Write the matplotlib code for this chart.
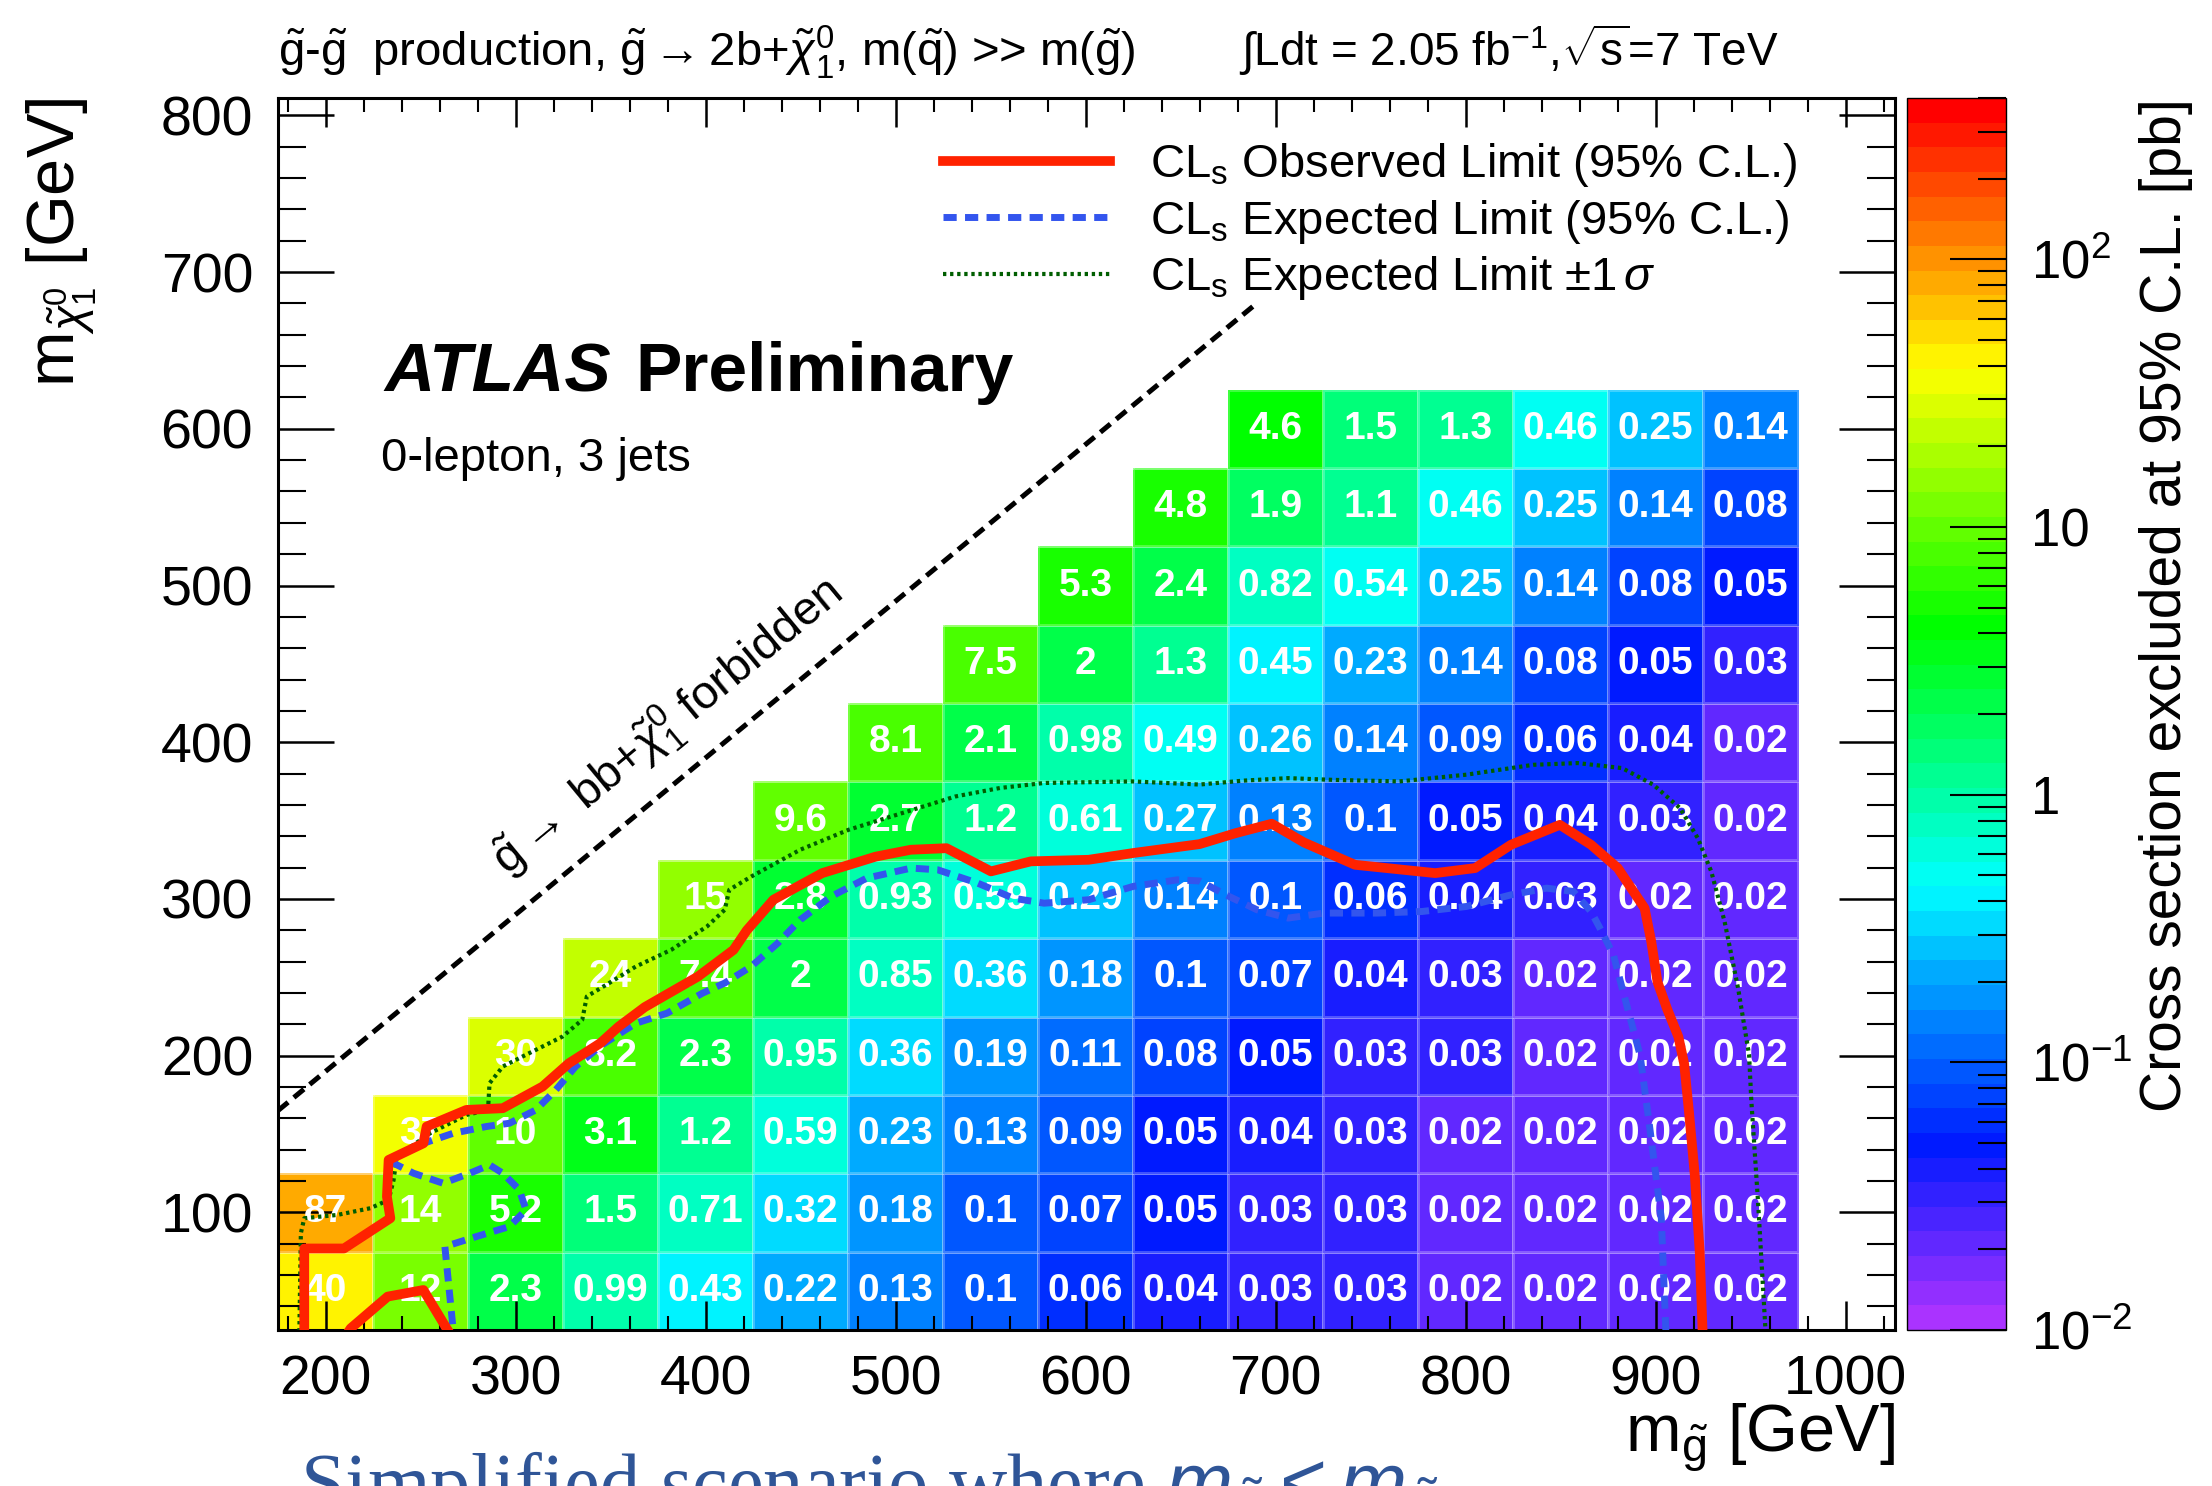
import colorsys

import numpy as np
import matplotlib
matplotlib.use("Agg")
import matplotlib.pyplot as plt
from matplotlib.colors import ListedColormap, LogNorm
from matplotlib.ticker import MultipleLocator, LogLocator, NullFormatter

plt.rcParams["font.family"] = ["Liberation Sans", "DejaVu Sans"]
plt.rcParams["mathtext.fontset"] = "custom"
plt.rcParams["mathtext.rm"] = "Liberation Sans"
plt.rcParams["mathtext.it"] = "Liberation Sans:italic"
plt.rcParams["mathtext.bf"] = "Liberation Sans:bold"

# grid of signal points (GeV)
M_GLUINO = np.array([200, 250, 300, 350, 400, 450, 500, 550, 600, 650, 700, 750, 800, 850, 900, 950])
M_LSP = np.array([50, 100, 150, 200, 250, 300, 350, 400, 450, 500, 550, 600])

# excluded cross section [pb], one row per neutralino mass, None = no point
_ = None
XSEC_050 = [40, 12, 2.3, 0.99, 0.43, 0.22, 0.13, 0.1, 0.06, 0.04, 0.03, 0.03, 0.02, 0.02, 0.02, 0.02]
XSEC_100 = [87, 14, 5.2, 1.5, 0.71, 0.32, 0.18, 0.1, 0.07, 0.05, 0.03, 0.03, 0.02, 0.02, 0.02, 0.02]
XSEC_150 = [_, 37, 10, 3.1, 1.2, 0.59, 0.23, 0.13, 0.09, 0.05, 0.04, 0.03, 0.02, 0.02, 0.02, 0.02]
XSEC_200 = [_, _, 30, 8.2, 2.3, 0.95, 0.36, 0.19, 0.11, 0.08, 0.05, 0.03, 0.03, 0.02, 0.02, 0.02]
XSEC_250 = [_, _, _, 24, 7.4, 2, 0.85, 0.36, 0.18, 0.1, 0.07, 0.04, 0.03, 0.02, 0.02, 0.02]
XSEC_300 = [_, _, _, _, 15, 2.8, 0.93, 0.59, 0.29, 0.14, 0.1, 0.06, 0.04, 0.03, 0.02, 0.02]
XSEC_350 = [_, _, _, _, _, 9.6, 2.7, 1.2, 0.61, 0.27, 0.13, 0.1, 0.05, 0.04, 0.03, 0.02]
XSEC_400 = [_, _, _, _, _, _, 8.1, 2.1, 0.98, 0.49, 0.26, 0.14, 0.09, 0.06, 0.04, 0.02]
XSEC_450 = [_, _, _, _, _, _, _, 7.5, 2, 1.3, 0.45, 0.23, 0.14, 0.08, 0.05, 0.03]
XSEC_500 = [_, _, _, _, _, _, _, _, 5.3, 2.4, 0.82, 0.54, 0.25, 0.14, 0.08, 0.05]
XSEC_550 = [_, _, _, _, _, _, _, _, _, 4.8, 1.9, 1.1, 0.46, 0.25, 0.14, 0.08]
XSEC_600 = [_, _, _, _, _, _, _, _, _, _, 4.6, 1.5, 1.3, 0.46, 0.25, 0.14]

# observed limit (main contour + small island at low mass)
OBS_X = [188.8, 188.8, 209.7, 234.1, 232.3, 233.2, 251.5, 253.2, 274.1, 293.3, 314.2, 328.1, 344.6,
         354.3, 368, 396, 414.7, 421.7, 435.7, 461.4, 489.5, 508, 526.8, 550.2, 571.2, 601.6, 625,
         660, 679, 698, 715, 741.8, 784, 805, 823.9, 849.6, 866, 880.1, 894.2, 897.7, 901, 906, 912,
         915, 917.5, 920.6, 923.2, 925]
OBS_Y = [15, 77, 77, 96.3, 110.1, 133.5, 144.1, 154.8, 165.4, 166.5, 180.3, 195.2, 208,
         218.6, 231, 250.5, 267.5, 280, 299.5, 316.5, 327, 331.4, 332.4, 317.6, 324, 325, 329.3,
         335, 342, 348, 336, 321.8, 316.5, 319.7, 334.6, 347.3, 334.6, 319.7, 294.1, 272.9, 247, 230, 212,
         195, 165, 124, 75, 15]
OBS2_X = [210, 213.2, 232.7, 251.5, 263.7, 268]
OBS2_Y = [20, 26, 46.3, 50.5, 26, 18]

# expected limit
EXP_X = [268, 262.8, 279.4, 296.8, 305.5, 302, 293.3, 286.3, 275.9, 261.9, 246.3, 235.8, 237.5, 251.5,
         267.2, 284.6, 296.8, 310.7, 321.2, 331.6, 345.6, 363.3, 379.7, 398.4, 410, 424, 438, 449.8,
         466.1, 484.8, 508.2, 522.2, 543.2, 561.9, 578.2, 601.6, 625, 648.3, 660, 673.8, 690.2, 706.6,
         725.4, 753.5, 777, 800.4, 823.8, 842.6, 856.7, 866, 870.7, 877.8, 882.4, 887.1, 891.8, 896.5,
         903, 905.7]
EXP_Y = [15, 78.2, 84.6, 91, 101.6, 114.4, 125, 130.3, 125, 118.6, 125, 131.4, 135.6, 144.1,
         150.5, 154.8, 156.9, 165.4, 178.2, 193.1, 207, 220.7, 227.1, 239.9, 246.3, 256.9, 271.8, 286.7,
         301.6, 313.3, 319.7, 318.6, 310.1, 300.5, 297.3, 299.5, 308, 312.2, 311.5, 302.6, 293.1, 287.8,
         291, 291, 292, 295.2, 302.6, 306.9, 304.8, 292, 281.4, 264.3, 243.1, 221.8, 200.5, 158,
         96.3, 15]

# expected limit +-1 sigma
SIG_X = [186.1, 187, 188.8, 206.2, 223.6, 233.2, 235.8, 237.5, 255, 274.1, 285.5, 286.3, 293.3, 303.7,
         324.7, 335.1, 337.5, 349.2, 363.3, 382, 400.8, 410.1, 412.5, 424.2, 449.8, 475.4, 503.5, 531.5,
         554.9, 578.2, 625, 660, 683, 706.6, 730, 765.2, 800.4, 835.6, 859, 882.4, 898.8, 912.8, 922.2,
         929.3, 936.3, 943.4, 949.2, 950.4, 953.9, 958.3]
SIG_Y = [15, 86.7, 96.3, 98.4, 102.7, 108, 120.7, 135.6, 150.5, 162.2, 165.4, 182.4, 193.1, 199.5,
         212.2, 222.9, 237.8, 246.3, 256.9, 267.6, 282.5, 293.1, 305.9, 314.4, 331.4, 344.2, 354.8, 365.4,
         370.8, 374, 375, 373, 375.5, 377.1, 376, 375, 379.3, 385.6, 386.7, 383.5, 372.9, 358, 338.8,
         317.5, 285.6, 243.1, 200.5, 170.7, 106.9, 15]

# kinematic boundary m(chi) = m(gluino) - 2 m(b)
KIN_X = [175, 690]
KIN_Y = [165, 680]

CBAR_TICKS = [0.01, 0.1, 1, 10, 100]
CBAR_LABELS = ["$10^{-2}$", "$10^{-1}$", "1", "10", "$10^{2}$"]

RED = "#ff2200"
BLUE = "#3355ee"
GREEN = "#005e00"


def root_palette(n=50):
    # ROOT "pretty" palette: saturated hues from violet down to red,
    # the blue/violet end comes out a little washed in the original
    cols = []
    for h in np.linspace(280, 0, n):
        r, g, b = colorsys.hls_to_rgb(h / 360.0, 0.5, 1.0)
        if h > 200:
            g = min(1.0, g + 0.2 * (h - 200) / 80.0)
        cols.append((r, g, b))
    return ListedColormap(cols)


palette = root_palette()
norm = LogNorm(vmin=0.01, vmax=400)

rows = [XSEC_050, XSEC_100, XSEC_150, XSEC_200, XSEC_250, XSEC_300,
        XSEC_350, XSEC_400, XSEC_450, XSEC_500, XSEC_550, XSEC_600]
Z = np.ma.masked_invalid(np.array([[np.nan if v is None else v for v in r] for r in rows], dtype=float))
xe = np.append(M_GLUINO - 25, M_GLUINO[-1] + 25)
ye = np.append(M_LSP - 25, M_LSP[-1] + 25)

fig = plt.figure(figsize=(22.12, 14.86), dpi=100)
ax = fig.add_axes([0.1257, 0.105, 0.7310, 0.829])
cax = fig.add_axes([0.8621, 0.105, 0.0448, 0.829])

mesh = ax.pcolormesh(xe, ye, Z, cmap=palette, norm=norm, edgecolors=(1, 1, 1, 0.25), linewidth=0.8, zorder=1)
for j, m_lsp in enumerate(M_LSP):
    for i, m_gl in enumerate(M_GLUINO):
        v = rows[j][i]
        if v is None:
            continue
        ax.text(m_gl, m_lsp, f"{v:.2g}", ha="center", va="center", color="white",
                fontsize=28, fontweight="bold", zorder=2)

ax.plot(KIN_X, KIN_Y, color="black", lw=3.6, ls=(0, (2.6, 1.5)), zorder=3)
ax.text(380, 410, r"$\tilde{\mathrm{g}}\rightarrow$ bb+$\tilde{\chi}^{0}_{1}$ forbidden", fontsize=34,
        rotation=45, transform_rotates_text=True, rotation_mode="anchor", ha="center", va="center")

(h_sig,) = ax.plot(SIG_X, SIG_Y, color=GREEN, lw=3, ls=(0, (0.8, 0.9)), zorder=4,
                   label=r"CL$_{\mathrm{s}}$ Expected Limit $\pm$1$\,\sigma$")
(h_exp,) = ax.plot(EXP_X, EXP_Y, color=BLUE, lw=5, ls=(0, (1.9, 1.2)), zorder=5,
                   label="CL$_{\\mathrm{s}}$ Expected Limit (95% C.L.)")
(h_obs,) = ax.plot(OBS_X, OBS_Y, color=RED, lw=7, zorder=6, solid_joinstyle="round",
                   label="CL$_{\\mathrm{s}}$ Observed Limit (95% C.L.)")
ax.plot(OBS2_X, OBS2_Y, color=RED, lw=7, zorder=6, solid_joinstyle="round")

ax.legend(handles=[h_obs, h_exp, h_sig], loc="upper left", bbox_to_anchor=(0.411, 0.965),
          frameon=False, fontsize=34, handlelength=3.55, handletextpad=0.85, labelspacing=0.18,
          borderpad=0, borderaxespad=0)

ax.set_xlim(175, 1026)
ax.set_ylim(25, 811)
ax.set_xticks(range(200, 1001, 100))
ax.set_yticks(range(100, 801, 100))
ax.xaxis.set_minor_locator(MultipleLocator(20))
ax.yaxis.set_minor_locator(MultipleLocator(20))
ax.tick_params(axis="x", which="major", direction="in", length=21, width=1.8, top=True, labelsize=40, pad=18)
ax.tick_params(axis="x", which="minor", direction="in", length=10, width=1.5, top=True)
ax.tick_params(axis="y", which="major", direction="in", length=40, width=1.8, right=True, labelsize=40, pad=18)
ax.tick_params(axis="y", which="minor", direction="in", length=20, width=1.5, right=True)
for s in ax.spines.values():
    s.set_linewidth(2.2)

ax.set_xlabel(r"m$_{\tilde{\mathrm{g}}}$ [GeV]", fontsize=48, loc="right")
ax.xaxis.set_label_coords(1.0, -0.058)
ax.set_ylabel(r"m$_{\tilde{\chi}^{0}_{1}}$ [GeV]", fontsize=48, loc="top")
ax.yaxis.set_label_coords(-0.111, 1.0)

ax.text(0.0656, 0.762, "ATLAS", transform=ax.transAxes, fontsize=50, fontweight="bold", fontstyle="italic")
ax.text(0.2208, 0.762, "Preliminary", transform=ax.transAxes, fontsize=50, fontweight="bold")
ax.text(0.0637, 0.697, "0-lepton, 3 jets", transform=ax.transAxes, fontsize=34)

cb = fig.colorbar(mesh, cax=cax)
cb.outline.set_linewidth(1)
cb.set_ticks(CBAR_TICKS)
cb.set_ticklabels(CBAR_LABELS)
cax.yaxis.set_minor_locator(LogLocator(base=10, subs=range(2, 10)))
cax.yaxis.set_minor_formatter(NullFormatter())
cax.tick_params(which="major", direction="in", length=40, width=1.5, labelsize=38, pad=18)
cax.tick_params(which="minor", direction="in", length=20, width=1.5)
fig.text(0.979, 0.934, "Cross section excluded at 95% C.L. [pb]", rotation=90,
         ha="center", va="top", fontsize=41)

fig.text(0.1257, 0.9556,
         r"$\tilde{\mathrm{g}}$-$\tilde{\mathrm{g}}$  production, $\tilde{\mathrm{g}}\rightarrow$"
         r"2b+$\tilde{\chi}^{0}_{1}$, m($\tilde{\mathrm{q}}$) >> m($\tilde{\mathrm{g}}$)",
         fontsize=34, va="baseline")
fig.text(0.560, 0.9556, r"$\int$Ldt = 2.05 fb$^{-1}$,$\sqrt{\mathrm{s}}$=7 TeV", fontsize=33, va="baseline")

# slide caption under the plot, cut by the lower edge as in the original
fig.text(0.1356, -0.016, r"Simplified scenario where $m_{\tilde{g}} < m_{\tilde{q}}$",
         fontsize=58, color="#2f5597", family=["Liberation Serif", "DejaVu Serif"], va="baseline")

fig.savefig("out.png", dpi=100, facecolor="white")
